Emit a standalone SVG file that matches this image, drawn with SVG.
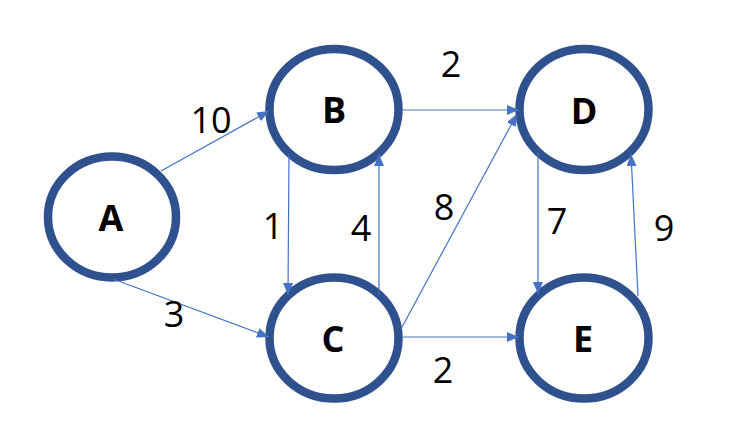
<svg xmlns="http://www.w3.org/2000/svg" width="730" height="448" viewBox="0 0 730 448">
<style>
.node ellipse{fill:#fff;stroke:#2F528F;stroke-width:8.5}
.node text{font-family:"Open Sans","Noto Sans","Liberation Sans",sans-serif;font-weight:bold;font-size:36px;fill:#000;text-anchor:middle}
.edges line{stroke:#4472C4;stroke-width:1.2;marker-end:url(#arr)}
.lbl{font-family:"Open Sans","Noto Sans","Liberation Sans",sans-serif;font-size:36px;fill:#000;text-anchor:middle}
</style>
<defs>
<marker id="arr" markerUnits="userSpaceOnUse" markerWidth="13" markerHeight="11" refX="12" refY="5" orient="auto">
<path d="M0,0 L12,5 L0,10 z" fill="#4472C4"/>
</marker>
</defs>
<rect width="730" height="448" fill="#fff"/>
<g id="A" class="node"><ellipse cx="112" cy="217" rx="64" ry="60.5"/><text x="111" y="230.5">A</text></g>
<g id="B" class="node"><ellipse cx="334" cy="109.5" rx="64.5" ry="60.5"/><text x="334" y="123">B</text></g>
<g id="C" class="node"><ellipse cx="334" cy="338" rx="64.5" ry="60.5"/><text x="333" y="351.5">C</text></g>
<g id="D" class="node"><ellipse cx="584" cy="109.5" rx="64.5" ry="60.5"/><text x="584" y="124">D</text></g>
<g id="E" class="node"><ellipse cx="584" cy="338" rx="64.5" ry="60.5"/><text x="583" y="352">E</text></g>
<g id="edges" class="edges">
<line x1="161" y1="171" x2="269" y2="111"/>
<line x1="113" y1="279" x2="269" y2="337"/>
<line x1="289" y1="154" x2="288" y2="295"/>
<line x1="379" y1="295" x2="379" y2="154"/>
<line x1="403" y1="110" x2="519" y2="110"/>
<line x1="401" y1="329" x2="517" y2="114"/>
<line x1="403" y1="337" x2="519" y2="337"/>
<line x1="538" y1="153" x2="538" y2="294"/>
<line x1="638" y1="296" x2="631" y2="154"/>
</g>
<g id="labels">
<text class="lbl" x="211" y="132.5">10</text>
<text class="lbl" x="451" y="76.5">2</text>
<text class="lbl" x="273" y="238.5">1</text>
<text class="lbl" x="361" y="240.5">4</text>
<text class="lbl" x="444" y="220">8</text>
<text class="lbl" x="557" y="234">7</text>
<text class="lbl" x="664" y="240.5">9</text>
<text class="lbl" x="174" y="327">3</text>
<text class="lbl" x="443" y="383">2</text>
</g>
</svg>
